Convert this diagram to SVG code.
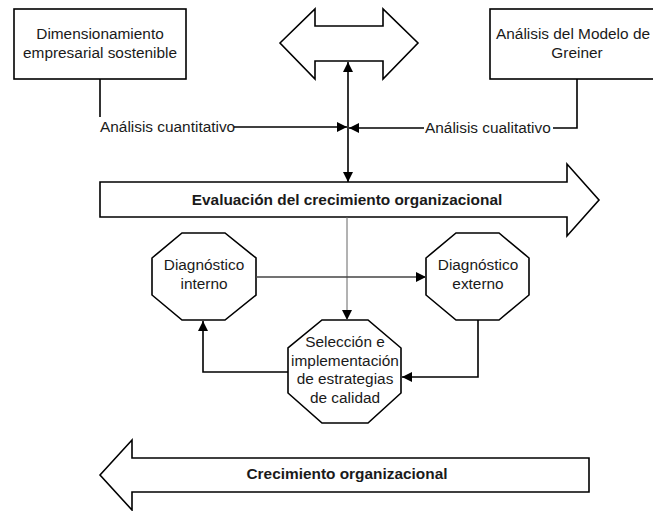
<svg xmlns="http://www.w3.org/2000/svg" width="653" height="511" viewBox="0 0 653 511">
<defs>
<style>
.shape{fill:#fff;stroke:#000;stroke-width:1.6}
.t{font-family:"Liberation Sans",Arial,sans-serif;font-size:15.4px;fill:#1a1a1a;text-anchor:middle}
.o{font-family:"Liberation Sans",Arial,sans-serif;font-size:15.4px;fill:#1a1a1a;text-anchor:middle}
.b{font-family:"Liberation Sans",Arial,sans-serif;font-size:15.4px;font-weight:bold;fill:#1a1a1a;text-anchor:middle}
.l{font-family:"Liberation Sans",Arial,sans-serif;font-size:15.4px;fill:#1a1a1a}
.c{fill:none;stroke:#000;stroke-width:1.6}
.g{fill:none;stroke:#444;stroke-width:1.6}
.gt{fill:none;stroke:#666;stroke-width:1}
</style>
<marker id="ah" viewBox="0 0 10 10" refX="10" refY="5" markerWidth="10" markerHeight="10" markerUnits="userSpaceOnUse" orient="auto">
<path d="M0,0 L10,5 L0,10 z" fill="#000"/>
</marker>
</defs>

<g id="box-dimensionamiento">
<rect class="shape" x="14" y="9" width="172" height="70"/>
<text class="t" x="100" y="39">Dimensionamiento</text>
<text class="t" x="100" y="58">empresarial sostenible</text>
</g>

<g id="box-greiner">
<rect class="shape" x="490" y="9" width="176" height="70"/>
<text class="t" x="573" y="39" font-size="15px">Análisis del Modelo de</text>
<text class="t" x="577" y="58">Greiner</text>
</g>

<g id="double-arrow">
<path class="shape" d="M280,43 L315,9 L315,26 L383,26 L383,9 L418,43 L383,79 L383,61 L315,61 L315,79 Z"/>
</g>

<g id="evaluacion">
<path class="shape" d="M100,182 L567,182 L567,164 L599,200 L567,236 L567,217 L100,217 Z"/>
<text class="b" x="347" y="205">Evaluación del crecimiento organizacional</text>
</g>

<g id="crecimiento">
<path class="shape" d="M100,475 L132,440 L132,458 L589,458 L589,492 L132,492 L132,510 Z"/>
<text class="b" x="347" y="479">Crecimiento organizacional</text>
</g>

<g id="diag-interno">
<polygon class="shape" points="182,233 225,233 256,258 256,295 225,320 182,320 152,295 152,258"/>
<text class="o" x="204" y="270">Diagnóstico</text>
<text class="o" x="204" y="289">interno</text>
</g>

<g id="diag-externo">
<polygon class="shape" points="456,233 499,233 529,258 529,295 499,320 456,320 426,295 426,258"/>
<text class="o" x="478" y="270">Diagnóstico</text>
<text class="o" x="478" y="289">externo</text>
</g>

<g id="seleccion">
<polygon class="shape" points="322,320 368,320 401,348 401,393 368,423 322,423 288,393 288,348"/>
<text class="o" x="345" y="347">Selección e</text>
<text class="o" x="345" y="366">implementación</text>
<text class="o" x="345" y="384">de estrategias</text>
<text class="o" x="345" y="403">de calidad</text>
</g>

<g id="labels">
<text class="l" x="100" y="132">Análisis cuantitativo</text>
<text class="l" x="425" y="133">Análisis cualitativo</text>
</g>

<g id="connectors">
<path class="c" d="M100,79 L100,117"/>
<path class="c" d="M234,127 L347,127" marker-end="url(#ah)"/>
<path class="c" d="M577,79 L577,128 L553,128"/>
<path class="c" d="M424,128 L349,128" marker-end="url(#ah)"/>
<path class="c" d="M348,122 L348,62" marker-end="url(#ah)"/>
<path class="c" d="M348,122 L348,182" marker-end="url(#ah)"/>
<path class="gt" d="M347,217 L347,320" marker-end="url(#ah)"/>
<path class="g" d="M256,277 L426,277" marker-end="url(#ah)"/>
<path class="c" d="M478,320 L478,377 L402,377" marker-end="url(#ah)"/>
<path class="c" d="M288,372 L203,372 L203,321" marker-end="url(#ah)"/>
</g>
</svg>
